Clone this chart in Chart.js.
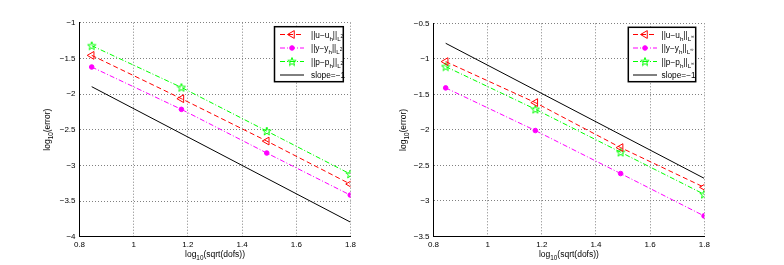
<!DOCTYPE html>
<html><head><meta charset="utf-8">
<script src="https://cdn.jsdelivr.net/npm/chart.js@4/dist/chart.umd.min.js"></script>
<style>
html,body{margin:0;padding:0;background:#fff;}
#wrap{position:relative;width:784px;height:265px;overflow:hidden;background:#fff;}
canvas{position:absolute;top:0;}
</style></head><body>
<div id="wrap">
<canvas id="c1" width="392" height="265" style="left:0px"></canvas>
<canvas id="c2" width="392" height="265" style="left:392px"></canvas>
</div>
<script>
// ---------- data ----------
const xDofs = [0.845, 1.176, 1.491, 1.799];
const slopeX = [0.845, 1.799];

const leftU = [-1.458, -2.065, -2.659, -3.262];
const leftY = [-1.621, -2.215, -2.827, -3.416];
const leftP = [-1.322, -1.907, -2.519, -3.121];
const leftSlope = [-1.897, -3.794];

const rightU = [-1.039, -1.616, -2.249, -2.807];
const rightY = [-1.409, -2.009, -2.614, -3.210];
const rightP = [-1.109, -1.709, -2.314, -2.905];
const rightSlope = [-0.781, -2.680];

const xTickLabels = ['0.8', '1', '1.2', '1.4', '1.6', '1.8'];
const yTickLabelsLeft = ['\u22124', '\u22123.5', '\u22123', '\u22122.5', '\u22122', '\u22121.5', '\u22121'];
const yTickLabelsRight = ['\u22123.5', '\u22123', '\u22122.5', '\u22122', '\u22121.5', '\u22121', '\u22120.5'];

const legendLeft = ['||u\u2212u_{h}||_{L^{2}}', '||y\u2212y_{h}||_{L^{2}}', '||p\u2212p_{h}||_{L^{2}}', 'slope=\u22121'];
const legendRight = ['||u\u2212u_{h}||_{L^{\u221E}}', '||y\u2212y_{h}||_{L^{\u221E}}', '||p\u2212p_{h}||_{L^{\u221E}}', 'slope=\u22121'];
const xTitle = 'log_{10}(sqrt(dofs))';
const yTitle = 'log_{10}(error)';

// ---------- helpers ----------
const FONT = '"Liberation Sans", Arial, Helvetica, sans-serif';

function starImage() {
  const c = document.createElement('canvas');
  c.width = 10; c.height = 10;
  const g = c.getContext('2d');
  g.strokeStyle = '#00ff00'; g.lineWidth = 1;
  g.beginPath();
  for (let i = 0; i < 10; i++) {
    const r = (i % 2 === 0) ? 4.4 : 1.8;
    const a = -Math.PI / 2 + i * Math.PI / 5;
    const px = 5 + r * Math.cos(a), py = 5.4 + r * Math.sin(a);
    if (i === 0) g.moveTo(px, py); else g.lineTo(px, py);
  }
  g.closePath(); g.stroke();
  return c;
}
const STAR = starImage();

function parseRich(str, size, dy, out) {
  let i = 0, buf = '';
  const flush = () => { if (buf) { out.push({t: buf, s: size, dy: dy}); buf = ''; } };
  while (i < str.length) {
    const ch = str[i];
    if ((ch === '_' || ch === '^') && str[i + 1] === '{') {
      flush();
      let depth = 1, j = i + 2;
      while (j < str.length && depth > 0) { if (str[j] === '{') depth++; else if (str[j] === '}') depth--; j++; }
      const inner = str.slice(i + 2, j - 1);
      if (ch === '_') parseRich(inner, size * 0.75, dy + size * 0.38, out);
      else parseRich(inner, size * 0.75, dy - size * 0.45, out);
      i = j;
    } else { buf += ch; i++; }
  }
  flush();
  return out;
}
function drawRich(ctx, str, x, y, size, align) {
  const segs = parseRich(str, size, 0, []);
  let w = 0;
  segs.forEach(s => { ctx.font = s.s + 'px ' + FONT; s.w = ctx.measureText(s.t).width; w += s.w; });
  let cx = align === 'center' ? x - w / 2 : (align === 'right' ? x - w : x);
  ctx.textBaseline = 'alphabetic'; ctx.textAlign = 'left'; ctx.fillStyle = '#000';
  segs.forEach(s => { ctx.font = s.s + 'px ' + FONT; ctx.fillText(s.t, cx, y + s.dy); cx += s.w; });
}

function drawMarker(ctx, ds, x, y) {
  const style = ds.pointStyle;
  if (!ds.pointRadius) return;
  ctx.save();
  ctx.strokeStyle = ds.pointBorderColor || ds.borderColor;
  ctx.fillStyle = ds.pointBackgroundColor || 'rgba(0,0,0,0)';
  ctx.lineWidth = 1;
  ctx.setLineDash([]);
  if (Chart.helpers && Chart.helpers.drawPoint) {
    Chart.helpers.drawPoint(ctx, {pointStyle: style, rotation: ds.pointRotation || 0, radius: ds.pointRadius, borderWidth: 1}, x, y);
  }
  ctx.restore();
}

const overlayPlugin = {
  id: 'overlay',
  afterDraw(chart, args, opts) {
    const ctx = chart.ctx;
    const ca = chart.chartArea;
    ctx.save();
    // axis titles
    drawRich(ctx, xTitle, (ca.left + ca.right) / 2, opts.xTitleY, 8.5, 'center');
    ctx.save();
    ctx.translate(opts.yTitleX, (ca.top + ca.bottom) / 2);
    ctx.rotate(-Math.PI / 2);
    drawRich(ctx, yTitle, 0, 3, 8.5, 'center');
    ctx.restore();
    // legend
    const L = opts.legend;
    ctx.fillStyle = '#fff';
    ctx.fillRect(L.x, L.y, L.w, L.h);
    ctx.strokeStyle = '#000'; ctx.lineWidth = 1.5; ctx.setLineDash([]);
    ctx.strokeRect(L.x, L.y, L.w, L.h);
    chart.data.datasets.forEach((ds, i) => {
      const ry = L.rows[i];
      ctx.save();
      ctx.strokeStyle = ds.borderColor; ctx.lineWidth = ds.borderWidth || 1;
      ctx.setLineDash(ds.borderDash || []);
      ctx.beginPath(); ctx.moveTo(L.lx0, ry); ctx.lineTo(L.lx1, ry); ctx.stroke();
      ctx.restore();
      drawMarker(ctx, ds, (L.lx0 + L.lx1) / 2, ry);
      drawRich(ctx, opts.labels[i], L.tx, ry + 3, 8.3, 'left');
    });
    ctx.restore();
  }
};

function pts(xs, ys) { return xs.map((x, i) => ({x: x, y: ys[i]})); }

function makeChart(id, u, y, p, slope, yMin, yMax, yLabels, labels, geo) {
  const datasets = [
    {data: pts(xDofs, u), borderColor: '#ff0000', borderWidth: 1, borderDash: [5, 3],
     pointStyle: 'triangle', pointRotation: -90, pointRadius: 4.5,
     pointBorderColor: '#ff0000', pointBackgroundColor: 'rgba(0,0,0,0)', pointBorderWidth: 1},
    {data: pts(xDofs, y), borderColor: '#ff00ff', borderWidth: 1, borderDash: [5, 2, 1, 2],
     pointStyle: 'circle', pointRadius: 2.3,
     pointBorderColor: '#ff00ff', pointBackgroundColor: '#ff00ff', pointBorderWidth: 1},
    {data: pts(xDofs, p), borderColor: '#00ff00', borderWidth: 1, borderDash: [5, 2, 1, 2],
     pointStyle: STAR, pointRadius: 4.5,
     pointBorderColor: '#00ff00', pointBackgroundColor: 'rgba(0,0,0,0)', pointBorderWidth: 1},
    {data: pts(slopeX, slope), borderColor: '#000000', borderWidth: 1, borderDash: [],
     pointRadius: 0}
  ];
  datasets.forEach(d => { d.fill = false; d.tension = 0; d.pointHoverRadius = d.pointRadius; });
  return new Chart(document.getElementById(id), {
    type: 'line',
    data: {datasets: datasets},
    options: {
      responsive: false, animation: false, devicePixelRatio: 1,
      events: [],
      layout: {padding: {left: 0, right: geo.padRight, top: geo.padTop, bottom: 0}},
      plugins: {
        legend: {display: false}, tooltip: {enabled: false},
        overlay: {labels: labels, legend: geo.legend, xTitleY: geo.xTitleY, yTitleX: geo.yTitleX}
      },
      scales: {
        x: {
          type: 'linear', min: 0.8, max: 1.8,
          ticks: {stepSize: 0.2, color: '#000', padding: 3, maxRotation: 0, autoSkip: false,
                  font: {family: FONT, size: 8}, callback: (v, i) => xTickLabels[i]},
          grid: {color: '#808080', lineWidth: 1, drawTicks: false},
          border: {display: true, color: '#000', width: 1, dash: [1, 2]},
          afterFit: s => { s.height = geo.xAxisH; }
        },
        y: {
          type: 'linear', min: yMin, max: yMax,
          ticks: {stepSize: 0.5, color: '#000', padding: 4, autoSkip: false,
                  font: {family: FONT, size: 8}, callback: (v, i) => yLabels[i]},
          grid: {color: '#808080', lineWidth: 1, drawTicks: false},
          border: {display: true, color: '#000', width: 1, dash: [1, 2]},
          afterFit: s => { s.width = geo.yAxisW; }
        }
      }
    },
    plugins: [overlayPlugin]
  });
}

makeChart('c1', leftU, leftY, leftP, leftSlope, -4, -1, yTickLabelsLeft, legendLeft, {
  padRight: 392 - 350.5, padTop: 22.7, yAxisW: 79.5, xAxisH: 265 - 236.7,
  xTitleY: 256.5, yTitleX: 47,
  legend: {x: 274.5, y: 26.7, w: 68.8, h: 55, rows: [34.5, 48, 61.5, 75], lx0: 280, lx1: 304, tx: 311}
});
makeChart('c2', rightU, rightY, rightP, rightSlope, -3.5, -0.5, yTickLabelsRight, legendRight, {
  padRight: 392 - (704.3 - 392), padTop: 23.3, yAxisW: 433.5 - 392, xAxisH: 265 - 236.5,
  xTitleY: 256.5, yTitleX: 402.5 - 392,
  legend: {x: 628.3 - 392, y: 27.3, w: 67.4, h: 54.4, rows: [34.5, 48, 61.5, 75], lx0: 633 - 392, lx1: 657 - 392, tx: 661.5 - 392}
});
</script>
</body></html>
